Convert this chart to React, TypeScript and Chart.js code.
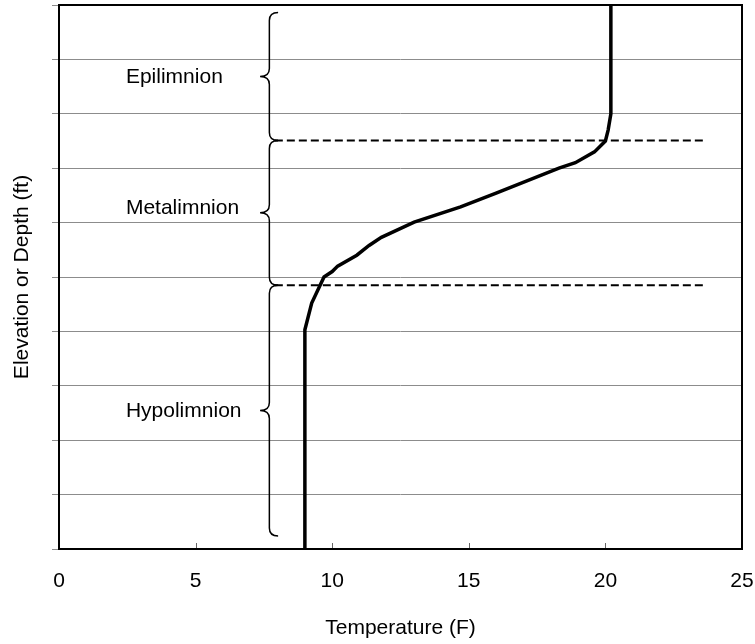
import React, { useEffect, useRef } from 'react';
import { Chart, registerables } from 'chart.js';

Chart.register(...registerables);

// temperature profile (F) vs depth below surface (grid units, 0 = top)
const temperature = [20.2, 20.2, 20.1, 20.0, 19.6, 18.9, 18.3, 16.0, 14.7, 13.0, 11.8, 11.35, 10.9, 10.2, 10.0, 9.7, 9.25, 9.0, 9.0];
const depth = [0, 2.0, 2.3, 2.5, 2.7, 2.9, 3.0, 3.46, 3.71, 3.99, 4.27, 4.42, 4.6, 4.8, 4.9, 5.0, 5.48, 5.97, 10];

// layers with their braces
const zoneNames = ['Epilimnion', 'Metalimnion', 'Hypolimnion'];
const zoneTop = [0.14, 2.49, 5.15];
const zoneBottom = [2.49, 5.15, 9.76];
const zoneLabelDepth = [1.32, 3.73, 7.46];
const zoneLabelTemp = 2.45;
const braceTemp = 7.7;
const braceTipTemp = 7.36;
const braceEndTemp = 8.02;

// dashed layer boundaries
const boundaryDepths = [2.49, 5.15];
const boundaryTempRange = [7.9, 23.65];

const FONT = '"Liberation Sans", Arial, sans-serif';

const framePlugin = {
  id: 'frame',
  beforeDatasetsDraw(chart: any) {
    const { ctx, chartArea: a, scales } = chart;
    ctx.save();
    // x ticks pointing into the plot
    ctx.strokeStyle = '#666';
    ctx.lineWidth = 1;
    scales.x.ticks.forEach((t: any) => {
      const px = Math.round(scales.x.getPixelForValue(t.value)) + 0.5;
      ctx.beginPath();
      ctx.moveTo(px, a.bottom);
      ctx.lineTo(px, a.bottom - 6);
      ctx.stroke();
    });
    ctx.strokeStyle = '#000';
    ctx.lineWidth = 2;
    ctx.strokeRect(a.left, a.top, a.right - a.left, a.bottom - a.top);
    ctx.restore();
  },
};

const zonePlugin = {
  id: 'zones',
  afterDatasetsDraw(chart: any) {
    const { ctx, scales: { x, y } } = chart;
    ctx.save();
    ctx.strokeStyle = '#000';
    ctx.fillStyle = '#000';
    ctx.lineWidth = 1.5;
    ctx.font = `21px ${FONT}`;
    ctx.textAlign = 'left';
    ctx.textBaseline = 'middle';
    const xl = x.getPixelForValue(braceTemp);
    const xt = x.getPixelForValue(braceTipTemp);
    const xe = x.getPixelForValue(braceEndTemp);
    const r = 8;
    zoneNames.forEach((name, i) => {
      const y0 = y.getPixelForValue(zoneTop[i]);
      const y1 = y.getPixelForValue(zoneBottom[i]);
      const ym = (y0 + y1) / 2;
      ctx.beginPath();
      ctx.moveTo(xe, y0);
      ctx.quadraticCurveTo(xl, y0, xl, y0 + r);
      ctx.lineTo(xl, ym - r);
      ctx.quadraticCurveTo(xl, ym, xt, ym);
      ctx.quadraticCurveTo(xl, ym, xl, ym + r);
      ctx.lineTo(xl, y1 - r);
      ctx.quadraticCurveTo(xl, y1, xe, y1);
      ctx.stroke();
      ctx.fillText(name, x.getPixelForValue(zoneLabelTemp), y.getPixelForValue(zoneLabelDepth[i]));
    });
    ctx.restore();
  },
};

const App: React.FC = () => {
  const canvasRef = useRef<HTMLCanvasElement>(null);
  const chartRef = useRef<Chart | null>(null);

  useEffect(() => {
    if (!canvasRef.current) return;
    if (chartRef.current) chartRef.current.destroy();

    const profile = temperature.map((t, i) => ({ x: t, y: depth[i] }));
    const boundaries = boundaryDepths.map(d => ({
      data: boundaryTempRange.map(t => ({ x: t, y: d })),
      borderColor: '#000',
      borderWidth: 2,
      borderDash: [8, 4],
      pointRadius: 0,
      fill: false,
    }));

    chartRef.current = new Chart(canvasRef.current, {
      type: 'line',
      data: {
        datasets: [
          {
            data: profile,
            borderColor: '#000',
            borderWidth: 3.5,
            pointRadius: 0,
            tension: 0,
            fill: false,
          },
          ...boundaries,
        ] as any,
      },
      options: {
        responsive: true,
        maintainAspectRatio: false,
        animation: false,
        layout: { padding: { left: 0, top: 5, right: 0, bottom: 0 } },
        plugins: {
          legend: { display: false },
          tooltip: { enabled: false },
        },
        scales: {
          x: {
            type: 'linear',
            min: 0,
            max: 25,
            ticks: {
              stepSize: 5,
              color: '#000',
              font: { family: FONT, size: 21 },
              padding: 20,
            },
            grid: { display: false, drawTicks: false },
            border: { display: false },
            title: {
              display: true,
              text: 'Temperature (F)',
              color: '#000',
              font: { family: FONT, size: 21 },
              padding: { top: 4, bottom: 3 },
            },
            afterFit: (scale: any) => {
              scale.height = 95;
              scale.paddingLeft = 0;
              scale.paddingRight = 13;
            },
          },
          y: {
            type: 'linear',
            min: 0,
            max: 10,
            reverse: true,
            ticks: { stepSize: 1, display: false },
            grid: { color: '#8c8c8c', lineWidth: 1, tickLength: 7 },
            border: { display: false },
            title: {
              display: true,
              text: 'Elevation or Depth (ft)',
              color: '#000',
              font: { family: FONT, size: 21 },
              padding: { top: 10, bottom: 0 },
            },
            afterFit: (scale: any) => {
              scale.width = 59;
              scale.paddingTop = 0;
              scale.paddingBottom = 0;
            },
          },
        },
      },
      plugins: [framePlugin, zonePlugin],
    });

    return () => {
      if (chartRef.current) {
        chartRef.current.destroy();
        chartRef.current = null;
      }
    };
  }, []);

  return (
    <div style={{ position: 'fixed', left: 0, top: 0, width: 755, height: 644, background: '#fff' }}>
      <canvas ref={canvasRef}></canvas>
    </div>
  );
};

export default App;
